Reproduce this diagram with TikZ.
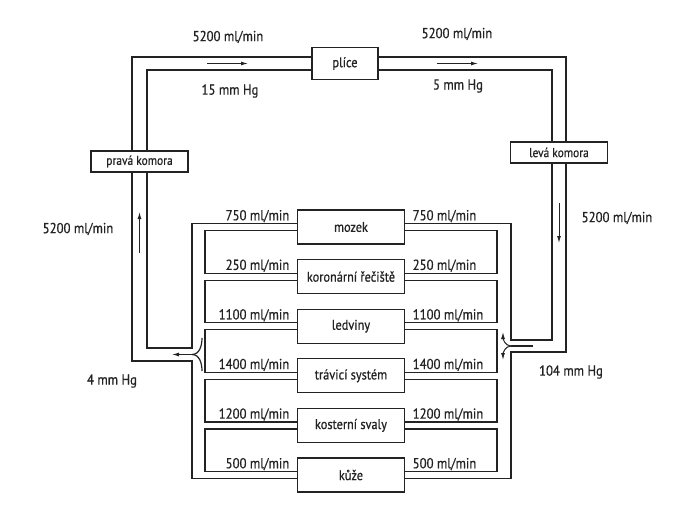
\documentclass[tikz,border=0pt]{standalone}
\usepackage{fontspec}
\setmainfont{PT Sans}[FakeStretch=0.88, FakeBold=0.6]
\usetikzlibrary{arrows.meta,positioning}
\definecolor{ink}{RGB}{35,35,35}

\begin{document}
\begin{tikzpicture}[
      x=1pt, y=-1pt,
      organ/.style={draw=ink, fill=white, line width=1.2pt, outer sep=0pt, minimum width=107pt,
                    minimum height=34pt, inner sep=2pt, text=ink, font=\fontsize{14}{16}\selectfont},
      chamber/.style={organ, minimum width=97pt, minimum height=21pt, font=\fontsize{13}{15}\selectfont},
      lbl/.style={text=ink, inner sep=1pt, font=\fontsize{14.5}{16}\selectfont},
      wall/.style={draw=ink, line width=1.2pt},
      flow/.style={-{Latex[length=7pt,width=4pt]}, draw=ink, line width=1pt},
      node distance=15.6pt
    ]
      \useasboundingbox (0,0) rectangle (694,515);

      % septa between the organ branches
      \draw[wall] (205,230.5) rectangle (497,273.1);
      \draw[wall] (205,280.1) rectangle (497,322.7);
      \draw[wall] (205,329.7) rectangle (497,372.3);
      \draw[wall] (205,379.3) rectangle (497,421.9);
      \draw[wall] (205,428.9) rectangle (497,471.5);

      \node[organ, minimum width=66pt, minimum height=32pt] (plice) at (345,63.5) {plíce};
      \node[chamber] (prava) at (139.5,161.5) {pravá komora};
      \node[chamber] (leva) at (559,152.5) {levá komora};

      \node[organ] (mozek) at (351,227) {mozek};
      \node[organ, below=of mozek] (koron) {koronární řečiště};
      \node[organ, below=of koron] (ledviny) {ledviny};
      \node[organ, below=of ledviny] (travici) {trávicí systém};
      \node[organ, below=of travici] (svaly) {kosterní svaly};
      \node[organ, below=of svaly] (kuze) {kůže};

      \coordinate (vcin) at (192,348);
      \coordinate (vcout) at (192,361);
      \coordinate (aoin) at (511,340);
      \coordinate (aoout) at (511,352);
      \coordinate (vcjoin) at (192,354.5);
      \coordinate (aojoin) at (511,346);

      % vessel walls
      \draw[wall] ([yshift=6.5pt]plice.west) -| ([xshift=-7.5pt]prava.north);
      \draw[wall] ([yshift=-6.5pt]plice.west) -| ([xshift=7.5pt]prava.north);
      \draw[wall] ([yshift=6.5pt]plice.east) -| ([xshift=7pt]leva.north);
      \draw[wall] ([yshift=-6.5pt]plice.east) -| ([xshift=-7pt]leva.north);
      \draw[wall] ([xshift=-7.5pt]prava.south) |- (vcout) |- ([yshift=-3.5pt]kuze.west);
      \draw[wall] ([xshift=7.5pt]prava.south) |- (vcin) |- ([yshift=3.5pt]mozek.west);
      \draw[wall] ([yshift=3.5pt]mozek.east) -| (aoin) -| ([xshift=-7pt]leva.south);
      \draw[wall] ([yshift=-3.5pt]kuze.east) -| (aoout) -| ([xshift=7pt]leva.south);

      % flow directions
      \draw[flow] (207,63.5) -- (248,63.5);
      \draw[flow] (437,63.5) -- (478,63.5);
      \draw[flow] (139.5,253) -- (139.5,212);
      \draw[flow] (559,203) -- (559,243);

      \draw[flow] (vcjoin) -- (172,354.5);
      \draw[wall] (vcjoin) to[out=0, in=-90] (202,338);
      \draw[wall] (vcjoin) to[out=0, in=90] (202,371);
      \draw[wall] (533,346) -- (aojoin);
      \draw[flow] (aojoin) to[out=180, in=-90] (503,332);
      \draw[flow] (aojoin) to[out=180, in=90] (503,360);

      \node[lbl] (qpl) at (228,37) {5200 ml/min};
      \node[lbl] (qpr) at (457,34) {5200 ml/min};
      \node[lbl] (ppl) at (230,91) {15 mm Hg};
      \node[lbl] (ppr) at (458,86) {5 mm Hg};
      \node[lbl] (qvc) at (78,229) {5200 ml/min};
      \node[lbl] (qao) at (617,218) {5200 ml/min};
      \node[lbl] (pvc) at (112,381) {4 mm Hg};
      \node[lbl] (pao) at (571,372) {104 mm Hg};

      \node[lbl, above left=3.5pt and 7pt of mozek.west] (q1l) {750 ml/min};
      \node[lbl, above right=3.5pt and 7pt of mozek.east] (q1r) {750 ml/min};
      \node[lbl, above left=3.5pt and 7pt of koron.west] (q2l) {250 ml/min};
      \node[lbl, above right=3.5pt and 7pt of koron.east] (q2r) {250 ml/min};
      \node[lbl, above left=3.5pt and 7pt of ledviny.west] (q3l) {1100 ml/min};
      \node[lbl, above right=3.5pt and 7pt of ledviny.east] (q3r) {1100 ml/min};
      \node[lbl, above left=3.5pt and 7pt of travici.west] (q4l) {1400 ml/min};
      \node[lbl, above right=3.5pt and 7pt of travici.east] (q4r) {1400 ml/min};
      \node[lbl, above left=3.5pt and 7pt of svaly.west] (q5l) {1200 ml/min};
      \node[lbl, above right=3.5pt and 7pt of svaly.east] (q5r) {1200 ml/min};
      \node[lbl, above left=3.5pt and 7pt of kuze.west] (q6l) {500 ml/min};
      \node[lbl, above right=3.5pt and 7pt of kuze.east] (q6r) {500 ml/min};
    \end{tikzpicture}
\end{document}
